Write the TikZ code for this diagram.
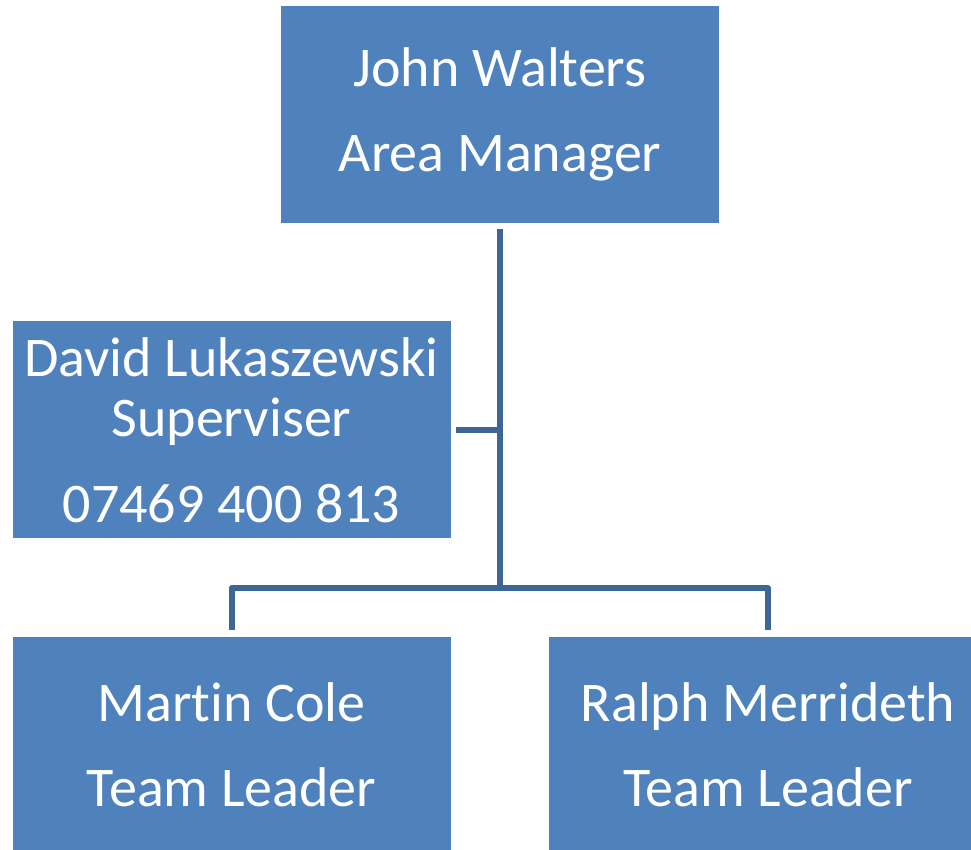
\documentclass[tikz,border=0pt]{standalone}
\usepackage{fontspec}
\setmainfont{Carlito}[Ligatures=NoCommon]
\definecolor{boxblue}{HTML}{4F81BD}
\definecolor{lineblue}{HTML}{3D6596}
\tikzset{
  orgbox/.style={fill=boxblue, text=white, minimum width=438, minimum height=217,
    inner sep=0, align=center, font=\fontsize{56}{60}\selectfont},
  conn/.style={draw=lineblue, line width=6, line join=round}
}
\begin{document}
\begin{tikzpicture}[x=1pt, y=1pt]
  \useasboundingbox (0,0) rectangle (971,849);
  \fill[white] (0,0) rectangle (971,849);

  \node[orgbox] (boss) at (500,734.5) {John Walters\\[25pt]Area Manager};
  \node[orgbox] (sup) at (231.5,419) {David Lukaszewski\\Superviser\\[26pt]07469 400 813};
  \node[orgbox] (lead1) at (231.5,104) {Martin Cole\\[25pt]Team Leader};
  \node[orgbox] (lead2) at (768,104) {Ralph Merrideth\\[25pt]Team Leader};

  \coordinate (fork) at (500,261);
  \draw[conn] ([yshift=-6]boss.south) -- (fork);
  \draw[conn] ([xshift=5]sup.east) -- (sup.east -| fork);
  \draw[conn] ([yshift=6]lead1.north) |- (fork) -| ([yshift=6]lead2.north);
\end{tikzpicture}
\end{document}
